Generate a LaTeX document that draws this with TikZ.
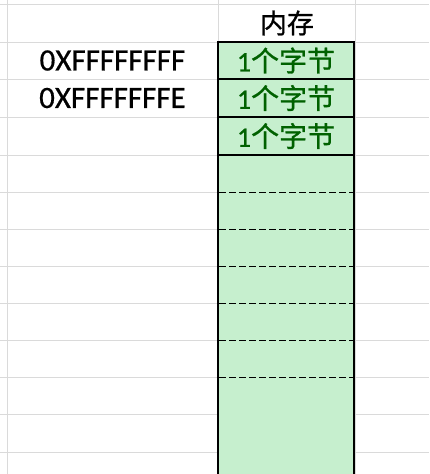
\documentclass[tikz,border=0pt]{standalone}
\usepackage{fontspec}
\setmainfont{Carlito}
\newfontfamily\latinfont{Carlito}[FakeBold=0.6]
\newfontfamily\cjk{Noto Sans CJK SC}[FakeBold=0.9]
\definecolor{gridgray}{HTML}{DADADA}
\definecolor{cellfill}{HTML}{C6EFCE}
\definecolor{goodtext}{HTML}{006100}
\begin{document}
\begin{tikzpicture}[x=1pt,y=-1pt,
  gridline/.style={draw=gridgray,line width=1pt},
  boxline/.style={draw=black,line width=2pt},
  dashline/.style={draw=black,line width=1pt,dash pattern=on 7pt off 3pt},
  addr/.style={font=\latinfont\fontsize{31}{31}\selectfont,text=black,inner sep=0pt},
  head/.style={font=\cjk\fontsize{27}{27}\selectfont,text=black,inner sep=0pt},
  bytecell/.style={font=\latinfont\fontsize{28}{28}\selectfont,text=goodtext,inner sep=0pt}]
\useasboundingbox (0,0) rectangle (429,474);
\fill[white] (0,0) rectangle (429,474);
% spreadsheet grid
\foreach \y in {4,42,79,117,155,192,229,266,303,340,377,414,452}
  \draw[gridline] (0,\y) -- (429,\y);
\foreach \x in {7,218,355}
  \draw[gridline] (\x,0) -- (\x,474);
% memory column
\fill[cellfill] (218,42) rectangle (354,476);
\foreach \y in {79,117,155}
  \draw[boxline] (218,\y) -- (354,\y);
\foreach \y in {192,229,266,303,340,377}
  \draw[dashline] (219,\y) -- (353,\y);
\draw[boxline] (218,476) -- (218,42) -- (354,42) -- (354,476);
% texts
\node[head] (hdr) at (287,23) {内存};
\node[addr] (a1) at (112.5,60.5) {0XFFFFFFFF};
\node[addr] (a2) at (112.5,98) {0XFFFFFFFE};
\node[bytecell] (b1) at (286,60.5) {1{\cjk 个字节}};
\node[bytecell] (b2) at (286,98) {1{\cjk 个字节}};
\node[bytecell] (b3) at (286,136) {1{\cjk 个字节}};
\end{tikzpicture}
\end{document}
